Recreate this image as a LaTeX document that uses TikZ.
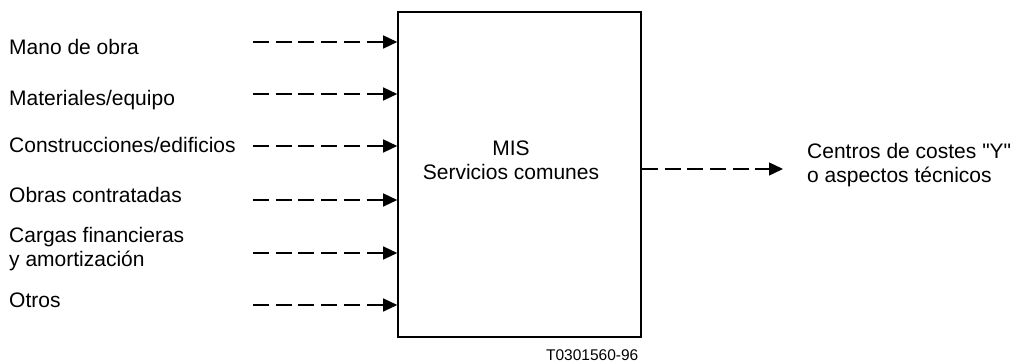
\documentclass[tikz,border=0pt]{standalone}
\usepackage{fontspec}
\setmainfont{Liberation Sans}
\usetikzlibrary{arrows.meta}
\begin{document}
\begin{tikzpicture}[x=1pt,y=-1pt,
  lbl/.style={font=\fontsize{21}{24}\selectfont, inner sep=0pt, align=left},
  flow/.style={line width=1.3pt, dash pattern=on 16pt off 6.7pt,
    -{Triangle[length=14pt,width=13pt]}},
  boxst/.style={draw, line width=1.6pt, minimum width=243pt, minimum height=325pt,
    inner sep=0pt}]
\useasboundingbox (0,0) rectangle (1013,363);

% central block (base anchor of a multi-line node = last line)
\node[boxst] (mis) at (519.5,174.5) {};
\node[lbl, align=center, anchor=base] (mistext) at (511,180) {MIS\\Servicios comunes};

% inputs
\node[lbl, anchor=base west] (l1) at (9,55)  {Mano de obra};
\node[lbl, anchor=base west] (l2) at (9,106) {Materiales/equipo};
\node[lbl, anchor=base west] (l3) at (9,153) {Construcciones/edificios};
\node[lbl, anchor=base west] (l4) at (9,203) {Obras contratadas};
\node[lbl, anchor=base west] (l5) at (9,267) {Cargas financieras\\y amortización};
\node[lbl, anchor=base west] (l6) at (9,308) {Otros};

\coordinate (s1) at (253,42);
\coordinate (s2) at (253,94);
\coordinate (s3) at (253,146);
\coordinate (s4) at (253,200);
\coordinate (s5) at (253,253);
\coordinate (s6) at (253,305);
\foreach \i in {1,...,6} \draw[flow] (s\i) -- (s\i -| mis.west);

% output
\coordinate (o) at (783,169);
\draw[flow] (mis.east |- o) -- (o);
\node[lbl, anchor=base west] (out) at (807,182.7) {Centros de costes \textquotedbl Y\textquotedbl\\o aspectos técnicos};

% reference code
\node[font=\fontsize{15.5}{18}\selectfont, inner sep=0pt, anchor=base east] (ref) at (638.5,361) {T0301560-96};
\end{tikzpicture}
\end{document}
